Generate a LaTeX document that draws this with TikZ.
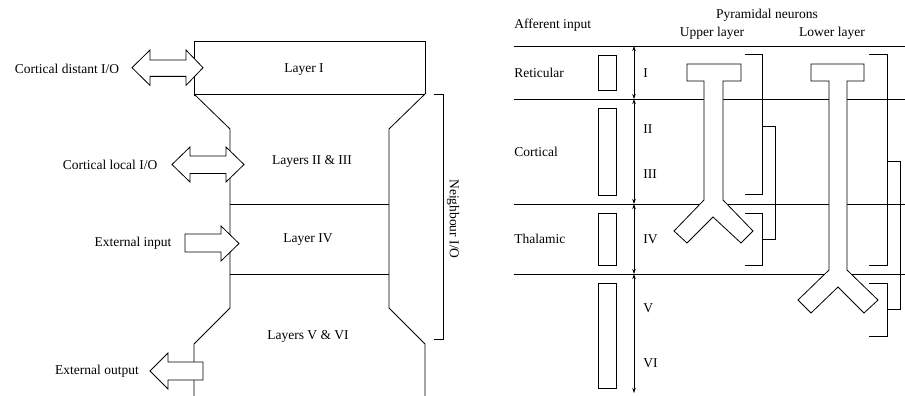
\documentclass[tikz,border=0pt]{standalone}
\usepackage{fontspec}
\setmainfont{Liberation Serif}
\usetikzlibrary{arrows.meta}
\begin{document}
\begin{tikzpicture}[x=1pt,y=-1pt,line width=0.8pt,line join=miter,
  font=\fontsize{13.5}{15}\selectfont,
  lbl/.style={inner sep=0pt},
  fatarrow/.style={draw,fill=white},
  neuron/.style={draw,fill=white},
  dimline/.style={{Stealth[length=5pt,width=3.5pt]}-{Stealth[length=5pt,width=3.5pt]},line width=0.7pt},
  bracketline/.style={line width=0.8pt}]
\useasboundingbox (0,0) rectangle (905,396);

% ---------- Left: column outline ----------
\draw (194,96) -- (194,41.7) -- (425,41.7) -- (425,94);
\draw (194,94) -- (425,94);
\draw (194,94) -- (230,129) -- (230,308) -- (194,344) -- (194,396);
\draw (425,94) -- (389,129) -- (389,308) -- (425,344) -- (425,396);
\draw (230,204) -- (389,204);
\draw (230,274) -- (389,274);

% Neighbour I/O bracket
\draw[bracketline] (434,94) -- (443,94) -- (443,339) -- (434,339);
\node[lbl,rotate=-90] (nio) at (453,219) {Neighbour I/O};

% layer labels
\node[lbl] (l1) at (304,70) {Layer I};
\node[lbl] (l23) at (312,161) {Layers II \& III};
\node[lbl] (l4) at (308,240) {Layer IV};
\node[lbl] (l56) at (308,336) {Layers V \& VI};

% fat arrows
\draw[fatarrow] (132,67.7) -- (150,50) -- (150,60) -- (186,60) -- (186,50) -- (203,67.7)
  -- (186,85.4) -- (186,76.4) -- (150,76.4) -- (150,85.4) -- cycle;
\draw[fatarrow] (172,164.5) -- (190,147) -- (190,156) -- (226,156) -- (226,147) -- (244,164.5)
  -- (226,182) -- (226,173.5) -- (190,173.5) -- (190,182) -- cycle;
\draw[fatarrow] (185,234) -- (221,234) -- (221,226) -- (239,243.5) -- (221,261) -- (221,252)
  -- (185,252) -- cycle;
\draw[fatarrow] (150,371) -- (168,353) -- (168,362) -- (203,362) -- (203,380) -- (168,380)
  -- (168,389) -- cycle;

\node[lbl] (cd) at (67,68.5) {Cortical distant I/O};
\node[lbl] (cl) at (110,165) {Cortical local I/O};
\node[lbl] (ei) at (133,243) {External input};
\node[lbl] (eo) at (97,371) {External output};

% ---------- Right ----------
\node[lbl,anchor=west] (ai) at (514,25) {Afferent input};
\node[lbl] (pn) at (767,15) {Pyramidal neurons};
\node[lbl] (ul) at (712,33) {Upper layer};
\node[lbl] (ll) at (832,33) {Lower layer};

\draw (514,46) -- (905,46);
\draw (514,99) -- (905,99);
\draw (514,204) -- (905,204);
\draw (514,274) -- (905,274);

\node[lbl,anchor=west] (ret) at (514,73) {Reticular};
\node[lbl,anchor=west] (cor) at (514,152) {Cortical};
\node[lbl,anchor=west] (tha) at (514,239) {Thalamic};

% afferent bars
\draw (598,55) rectangle (616,90);
\draw (598,108) rectangle (616,195);
\draw (598,213) rectangle (616,265);
\draw (598,283) rectangle (616,388);

% layer extents
\coordinate (d0) at (634,46);
\coordinate (d1) at (634,99);
\coordinate (d2) at (634,204);
\coordinate (d3) at (634,274);
\coordinate (d4) at (634,393);
\draw[dimline] (d0) -- (d1);
\draw[dimline] (d1) -- (d2);
\draw[dimline] (d2) -- (d3);
\draw[dimline] (d3) -- (d4);

\node[lbl,anchor=west] (r1) at (643,73) {I};
\node[lbl,anchor=west] (r2) at (643,129) {II};
\node[lbl,anchor=west] (r3) at (643,174) {III};
\node[lbl,anchor=west] (r4) at (643,239) {IV};
\node[lbl,anchor=west] (r5) at (643,308) {V};
\node[lbl,anchor=west] (r6) at (643,363) {VI};

% upper-layer neuron
\draw[neuron] (704,200) -- (674,231) -- (687,243) -- (713,217) -- (741,243) -- (753,231)
  -- (723,200) -- (723,81) -- (741,81) -- (741,64) -- (687,64) -- (687,81) -- (704,81) -- cycle;
% lower-layer neuron
\draw[neuron] (829,270) -- (798,300) -- (811,313) -- (838,287) -- (864,313) -- (878,300)
  -- (847,270) -- (847,81) -- (864,81) -- (864,64) -- (811,64) -- (811,81) -- (829,81) -- cycle;

% brackets upper neuron
\draw[bracketline] (745,54) -- (762,54) -- (762,194) -- (745,194);
\draw[bracketline] (745,213) -- (762,213) -- (762,265) -- (745,265);
\draw[bracketline] (762,126) -- (775,126) -- (775,239) -- (762,239);
% brackets lower neuron
\draw[bracketline] (869,54) -- (887,54) -- (887,265) -- (869,265);
\draw[bracketline] (869,283) -- (887,283) -- (887,336) -- (869,336);
\draw[bracketline] (887,161) -- (900,161) -- (900,309) -- (887,309);
\end{tikzpicture}
\end{document}
